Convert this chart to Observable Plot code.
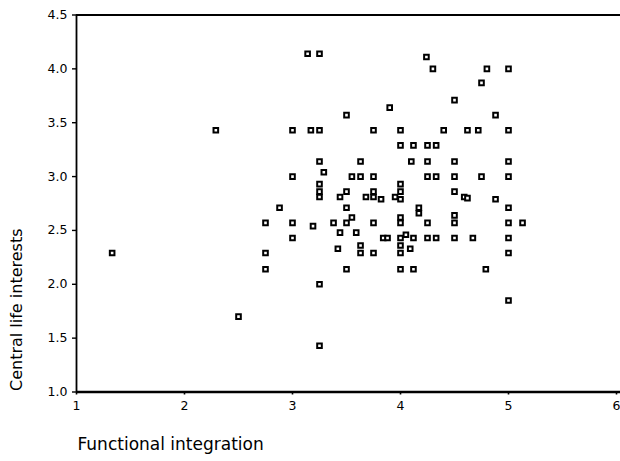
<!DOCTYPE html>
<html>
<head>
<meta charset="utf-8">
<script src="https://cdn.jsdelivr.net/npm/d3@7"></script>
<script src="https://cdn.jsdelivr.net/npm/@observablehq/plot@0.6"></script>
<style>
  html, body { margin: 0; padding: 0; background: #fff; }
  #chart svg { display: block; }
</style>
</head>
<body>
<div id="chart"></div>
<script>
const xs = [1.33,2.29,2.5,2.75,2.75,2.75,2.88,3.0,3.0,3.0,
  3.0,3.14,3.25,3.17,3.25,3.25,3.29,3.25,3.25,3.25,
  3.19,3.25,3.25,3.38,3.44,3.44,3.42,3.5,3.5,3.5,
  3.5,3.55,3.5,3.55,3.63,3.63,3.59,3.63,3.63,3.68,
  3.75,3.75,3.75,3.75,3.82,3.75,3.75,3.84,3.88,3.9,
  3.95,4.0,4.0,4.0,4.0,4.0,4.0,4.0,4.0,4.0,
  4.0,4.0,4.05,4.12,4.09,4.12,4.12,4.1,4.17,4.17,
  4.24,4.3,4.25,4.33,4.25,4.25,4.33,4.25,4.25,4.33,
  4.4,4.5,4.5,4.5,4.5,4.5,4.5,4.5,
  4.59,4.62,4.62,4.72,4.67,4.75,4.75,4.8,4.79,4.88,4.88,
  5,5,5,5,5,5,5,5,5,5.13];
const ys = [2.29,3.43,1.70,2.57,2.29,2.14,2.71,3.43,3.0,2.57,
  2.43,4.14,4.14,3.43,3.43,3.14,3.04,2.93,2.86,2.81,
  2.54,2.0,1.43,2.57,2.81,2.48,2.33,3.57,2.86,2.71,
  2.57,2.62,2.14,3.0,3.0,3.14,2.48,2.36,2.29,2.81,
  3.43,3.0,2.86,2.81,2.79,2.57,2.29,2.43,2.43,3.64,
  2.81,3.43,3.29,2.93,2.86,2.79,2.62,2.57,2.43,2.36,
  2.29,2.14,2.46,2.43,2.33,2.14,3.29,3.14,2.71,2.66,
  4.11,4.0,3.29,3.29,3.14,3.0,3.0,2.57,2.43,2.43,
  3.43,3.71,3.14,3.0,2.86,2.64,2.57,2.43,
  2.81,2.80,3.43,3.43,2.43,3.87,3.0,4.0,2.14,3.57,2.79,
  4.0,3.43,3.14,3.0,2.71,2.57,2.43,2.29,1.85,2.57];
const xTicks = [1, 2, 3, 4, 5, 6];
const yTicks = [1.0, 1.5, 2.0, 2.5, 3.0, 3.5, 4.0, 4.5];
const xTitle = "Functional integration";
const yTitle = "Central life interests";

const points = xs.map((x, i) => ({x, y: ys[i]}));

const chart = Plot.plot({
  width: 620,
  height: 461,
  marginLeft: 76,
  marginRight: 0,
  marginTop: 14.5,
  marginBottom: 69.5,
  style: {fontFamily: "DejaVu Sans", fontSize: "12px", color: "#000", background: "#fff", overflow: "visible"},
  x: {domain: [1, 6.037], ticks: xTicks, tickFormat: d3.format("d"), label: null},
  y: {domain: [1.0, 4.5], ticks: yTicks, tickFormat: d3.format(".1f"), label: null},
  marks: [
    Plot.axisY({ticks: yTicks, tickFormat: d3.format(".1f"), tickSize: 4, tickPadding: 5, strokeWidth: 1.4, fontSize: 12.5}),
    Plot.axisX({ticks: xTicks, tickFormat: d3.format("d"), tickSize: 3, tickPadding: 6, strokeWidth: 1.6, fontSize: 12.5}),
    Plot.ruleY([1.0], {stroke: "#000", strokeWidth: 2.4}),
    Plot.ruleY([4.5], {stroke: "#000", strokeWidth: 2.2}),
    Plot.ruleX([1], {stroke: "#000", strokeWidth: 1.8}),
    Plot.dot(points, {x: "x", y: "y", symbol: "square", r: 2.6, stroke: "#000", strokeWidth: 2, fill: "#fff"}),
    Plot.text([xTitle], {frameAnchor: "bottom-left", dx: 1, dy: 58, text: d => d, textAnchor: "start", fontSize: 17, fill: "#000"}),
    Plot.text([yTitle], {frameAnchor: "bottom-left", dx: -55, dy: -1, text: d => d, rotate: -90, textAnchor: "start", fontSize: 16, fill: "#000"})
  ]
});
document.getElementById("chart").append(chart);
</script>
</body>
</html>
